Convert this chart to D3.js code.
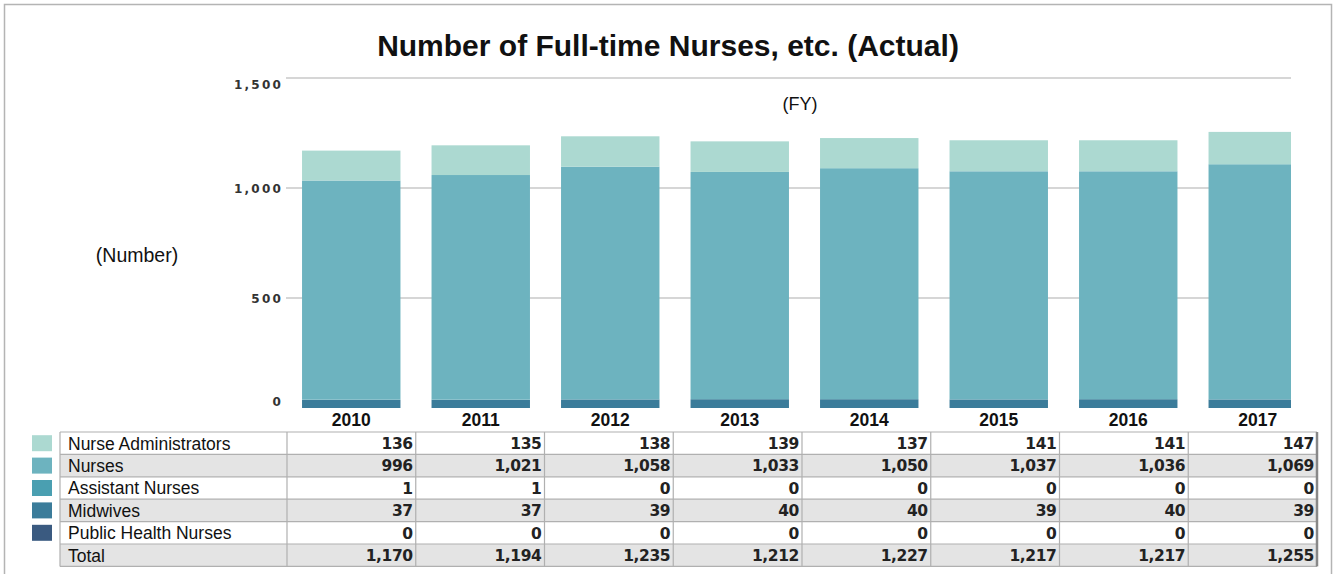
<!DOCTYPE html>
<html><head><meta charset="utf-8">
<script src="https://cdn.jsdelivr.net/npm/d3@7"></script>
<style>
html,body{margin:0;padding:0;background:#fff;}
svg{display:block;}
</style></head>
<body>
<svg id="chart" width="1335" height="574"></svg>
<script>
const years = ["2010","2011","2012","2013","2014","2015","2016","2017"];
const seriesNames = ["Nurse Administrators","Nurses","Assistant Nurses","Midwives","Public Health Nurses"];
const nurseAdministrators = [136,135,138,139,137,141,141,147];
const nurses = [996,1021,1058,1033,1050,1037,1036,1069];
const assistantNurses = [1,1,0,0,0,0,0,0];
const midwives = [37,37,39,40,40,39,40,39];
const publicHealthNurses = [0,0,0,0,0,0,0,0];
const totals = [1170,1194,1235,1212,1227,1217,1217,1255];
const yTicks = [0,500,1000,1500];
const colors = ["#acd9d1","#6db3bf","#4a9fb1","#3b7c9a","#3a5a80"];

const seriesValues = [nurseAdministrators, nurses, assistantNurses, midwives, publicHealthNurses];

const svg = d3.select("#chart");
const sans = "Liberation Sans, Arial, sans-serif";

// outer frame
svg.append("rect").attr("x",4.5).attr("y",4.5).attr("width",1327).attr("height",600)
  .attr("fill","none").attr("stroke","#b4b4b4").attr("stroke-width",1.5);

// title
svg.append("text").attr("x",668).attr("y",56).attr("text-anchor","middle")
  .attr("font-family",sans).attr("font-weight","bold")
  .attr("font-size",30).attr("fill","#111").text("Number of Full-time Nurses, etc. (Actual)");

const plotLeft = 286, plotRight = 1291;
const y = d3.scaleLinear().domain([0,1500]).range([408,78]);
const x = d3.scaleBand().domain(years).range([286.5,1322.5]).paddingInner(0.24).paddingOuter(0.12);

// gridlines
svg.append("g").selectAll("line").data(yTicks.filter(d=>d>0)).join("line")
  .attr("x1",plotLeft).attr("x2",plotRight)
  .attr("y1",d=>y(d)).attr("y2",d=>y(d))
  .attr("stroke","#c8c8c8").attr("stroke-width",1.5);

// y axis labels
const yAxis = d3.axisLeft(y).tickValues(yTicks).tickFormat(d3.format(",")).tickSize(0).tickPadding(0);
const ya = svg.append("g").attr("transform",`translate(283,0)`).call(yAxis);
ya.select(".domain").remove();
ya.selectAll("text").attr("font-family","DejaVu Sans, sans-serif").attr("font-weight","bold")
  .attr("font-size",12).attr("letter-spacing","2.2px").attr("fill","#333").attr("dy","0.36em");
ya.selectAll(".tick").filter(d=>d===1500).select("text").attr("dy","0.86em");
ya.selectAll(".tick").filter(d=>d===0).select("text").attr("dy","-0.22em");

// stacked bars
const stackData = years.map((yr,i)=>{
  const o = {year:yr};
  seriesNames.forEach((s,k)=>o[s]=seriesValues[k][i]);
  return o;
});
const stackOrder = seriesNames.slice().reverse();
const stack = d3.stack().keys(stackOrder);
const layers = stack(stackData);

svg.append("clipPath").attr("id","plotclip").append("rect")
  .attr("x",plotLeft).attr("y",0).attr("width",plotRight-plotLeft).attr("height",420);

const barsG = svg.append("g").attr("clip-path","url(#plotclip)");
barsG.selectAll("g").data(layers).join("g")
  .attr("fill",d=>colors[seriesNames.indexOf(d.key)])
  .selectAll("rect").data(d=>d).join("rect")
  .attr("x",d=>x(d.data.year)).attr("width",x.bandwidth())
  .attr("y",d=>y(d[1])).attr("height",d=>y(d[0])-y(d[1]));

// x labels
const xAxis = d3.axisBottom(x).tickSize(0).tickPadding(6);
const xa = svg.append("g").attr("transform","translate(0,408)").call(xAxis);
xa.select(".domain").remove();
xa.selectAll("text").attr("font-family",sans).attr("font-weight","bold")
  .attr("font-size",17.5).attr("fill","#111");

// axis annotations
svg.append("text").attr("x",137).attr("y",255).attr("dy","0.36em").attr("text-anchor","middle")
  .attr("font-family",sans).attr("font-size",19.5).attr("fill","#111").text("(Number)");
svg.append("text").attr("x",800).attr("y",104).attr("dy","0.36em").attr("text-anchor","middle")
  .attr("font-family",sans).attr("font-size",18).attr("fill","#111").text("(FY)");

// table
const rowNames = seriesNames.concat(["Total"]);
const rowValues = seriesValues.concat([totals]);
const tableTop = 432, rowH = 22.4;
const nameLeft = 60, colStart = 287, colRight = 1317;
const col = d3.scaleBand().domain(years).range([colStart,colRight]);
const tbl = svg.append("g");
rowNames.forEach((name,r)=>{
  const yy = tableTop + r*rowH;
  tbl.append("rect").attr("x",nameLeft).attr("y",yy).attr("width",colRight-nameLeft).attr("height",rowH)
    .attr("fill", r%2===1 ? "#e4e4e4" : "#ffffff");
  tbl.append("text").attr("x",nameLeft+8).attr("y",yy+rowH/2).attr("dy","0.36em")
    .attr("font-family",sans).attr("font-size",17.5).attr("fill","#111").text(name);
  years.forEach((yr,i)=>{
    tbl.append("text").attr("x",col(yr)+col.bandwidth()-3).attr("y",yy+rowH/2).attr("dy","0.37em")
      .attr("text-anchor","end").attr("font-family","DejaVu Sans, sans-serif").attr("font-weight","bold")
      .attr("font-size",15.5).attr("letter-spacing","-0.4px").attr("fill","#222").text(d3.format(",")(rowValues[r][i]));
  });
  if(r<5){
    tbl.append("rect").attr("x",32).attr("y",yy+rowH/2-8).attr("width",20).attr("height",16).attr("fill",colors[r]);
  }
});
// grid lines of the table
for(let r=0;r<=rowNames.length;r++){
  tbl.append("line").attr("x1",nameLeft).attr("x2",colRight)
    .attr("y1",tableTop+r*rowH).attr("y2",tableTop+r*rowH).attr("stroke","#b0b0b0").attr("stroke-width",1.2);
}
const vlines = [nameLeft].concat(years.map(yr=>col(yr))).concat([colRight]);
vlines.forEach((vx,k)=>{
  tbl.append("line").attr("x1",vx).attr("x2",vx).attr("y1",tableTop).attr("y2",tableTop+rowNames.length*rowH)
    .attr("stroke", k===vlines.length-1 ? "#888" : "#b0b0b0").attr("stroke-width", k===vlines.length-1 ? 2.5 : 1.2);
});
</script>
</body></html>
